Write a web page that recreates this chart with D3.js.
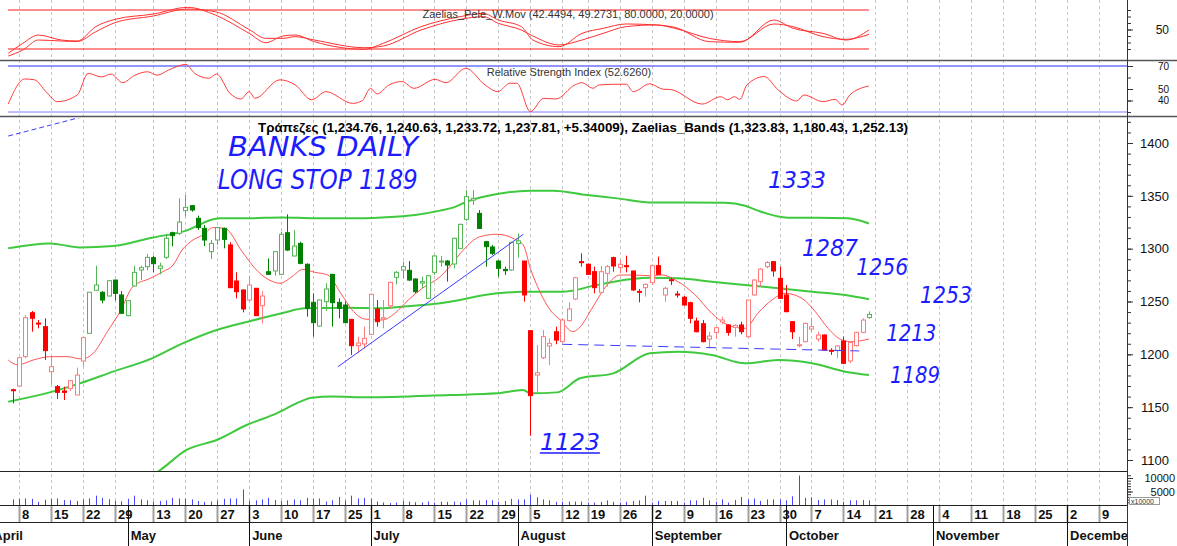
<!DOCTYPE html>
<html>
<head>
<meta charset="utf-8">
<script src="https://cdn.jsdelivr.net/npm/d3@7"></script>
<style>
  body { margin: 0; background: #fff; }
  svg { display: block; font-family: "Liberation Sans", Arial, sans-serif; }
</style>
</head>
<body>
<svg width="1177" height="546"></svg>
<script>
// ---- data (trading-day index 0 = first candle) ----
var opens = [1166.5,1170.0,1197.8,1239.4,1229.6,1226.2,1183.6,1169.4,1165.3,1167.8,1161.5,1193.7,
  1219.9,1260.6,1258.7,1255.2,1270.3,1256.2,1236.6,1264.7,1279.8,1283.0,1291.5,1281.4,1291.8,1315.1,
  1314.5,1336.0,1340.7,1328.7,1319.2,1297.2,1308.2,1319.2,1303.5,1269.4,1260.9,1251.4,1262.5,1246.0,
  1278.2,1278.9,1275.7,1315.1,1293.1,1305.0,1285.2,1249.2,1226.8,1249.8,1275.7,1249.2,1246.7,1233.1,
  1208.2,1209.8,1218.9,1242.9,1233.4,1246.0,1272.9,1279.8,1279.5,1271.3,1267.5,1253.0,1277.6,1287.7,
  1288.3,1285.5,1300.3,1327.8,1346.0,1333.4,1306.6,1301.6,1288.3,1280.4,1279.8,1305.0,1288.3,1222.4,
  1180.4,1196.8,1207.9,1221.4,1212.0,1231.9,1252.4,1287.7,1285.2,1278.2,1258.7,1276.6,1291.5,1282.3,
  1283.9,1278.9,1259.6,1263.1,1267.8,1283.9,1256.2,1270.6,1257.1,1254.0,1248.9,1231.5,1229.0,1214.5,
  1220.8,1230.6,1227.8,1225.5,1227.8,1216.7,1256.2,1268.8,1283.0,1287.7,1271.9,1256.2,1230.9,1208.5,
  1212.0,1224.0,1214.5,1218.3,1203.8,1203.5,1212.6,1193.7,1208.2,1220.8,1234.76];
var highs = [1167.5,1197.0,1237.2,1241.0,1232.5,1234.1,1197.8,1171.0,1169.4,1175.7,1187.4,1216.7,
  1259.0,1283.9,1259.9,1270.0,1270.5,1259.9,1251.0,1283.9,1283.9,1295.0,1293.4,1286.8,1313.6,1316.1,
  1347.6,1350.8,1341.3,1331.2,1322.4,1308.2,1320.8,1319.9,1306.0,1277.6,1261.5,1274.4,1262.8,1259.9,
  1290.8,1297.8,1316.1,1332.5,1317.7,1306.6,1286.1,1257.7,1252.0,1267.2,1276.0,1253.0,1249.8,1233.5,
  1216.7,1226.2,1257.4,1251.4,1251.4,1268.8,1278.9,1287.7,1288.3,1271.9,1273.5,1275.1,1294.0,1293.1,
  1289.3,1310.4,1323.7,1355.5,1355.5,1336.6,1307.3,1303.5,1289.3,1283.0,1306.6,1314.5,1288.5,1222.4,
  1208.8,1223.0,1215.1,1226.2,1234.1,1249.2,1273.5,1295.6,1286.1,1283.0,1283.6,1284.5,1292.4,1289.3,
  1293.4,1279.0,1261.8,1267.2,1284.5,1292.4,1264.0,1272.5,1259.9,1255.2,1249.8,1234.7,1232.5,1221.4,
  1226.2,1235.6,1228.4,1228.4,1230.9,1251.5,1271.0,1281.4,1288.3,1288.3,1283.0,1265.6,1231.5,1216.7,
  1230.0,1234.7,1221.4,1218.9,1205.7,1208.8,1216.7,1212.0,1221.4,1234.1,1240.63];
var lows = [1153.5,1169.0,1196.2,1221.4,1224.6,1194.6,1171.6,1157.7,1156.8,1165.3,1161.5,1188.3,
  1219.5,1260.0,1248.3,1255.0,1251.1,1238.5,1236.0,1264.5,1270.3,1279.5,1277.6,1275.7,1290.2,1302.2,
  1312.9,1330.3,1335.0,1317.7,1302.5,1290.2,1303.5,1300.3,1262.5,1253.0,1239.7,1250.4,1236.3,1229.3,
  1275.1,1274.4,1275.1,1297.8,1292.4,1285.2,1235.6,1216.7,1226.2,1241.0,1226.2,1234.1,1229.3,1199.4,
  1201.0,1205.7,1218.3,1226.2,1224.6,1243.5,1266.2,1271.9,1269.4,1257.7,1262.5,1252.4,1275.1,1283.0,
  1268.8,1281.4,1299.7,1326.2,1341.3,1318.6,1283.0,1294.0,1273.5,1275.1,1278.9,1291.5,1249.8,1123.0,
  1163.1,1195.6,1189.9,1209.5,1211.3,1230.9,1251.4,1283.0,1275.1,1257.7,1257.7,1264.0,1278.2,1276.6,
  1277.6,1260.0,1249.2,1254.6,1265.6,1275.1,1249.8,1265.6,1253.6,1246.0,1229.3,1220.8,1211.3,1205.7,
  1214.5,1228.4,1217.7,1216.7,1219.0,1216.1,1255.5,1264.0,1281.4,1273.5,1252.4,1239.7,1214.5,1206.6,
  1211.3,1221.4,1212.0,1203.5,1199.4,1196.2,1190.8,1191.5,1207.3,1219.9,1233.72];
var closes = [1166.0,1196.8,1234.7,1234.1,1229.2,1203.5,1188.3,1164.0,1164.0,1175.1,1180.4,1215.8,
  1258.7,1265.6,1251.4,1269.7,1257.7,1238.8,1250.8,1277.6,1282.0,1291.8,1285.8,1283.6,1309.8,1312.3,
  1325.2,1339.1,1336.6,1319.9,1308.2,1305.0,1319.9,1308.8,1263.1,1259.3,1242.9,1265.6,1236.6,1255.2,
  1275.7,1297.2,1313.6,1298.7,1302.5,1286.1,1243.5,1230.0,1251.4,1261.8,1248.9,1243.5,1230.0,1208.2,
  1210.7,1215.1,1256.8,1230.9,1234.7,1268.1,1277.6,1283.0,1270.3,1259.3,1268.8,1274.4,1293.1,1288.3,
  1284.5,1309.8,1323.0,1349.2,1347.6,1319.2,1301.9,1295.6,1281.4,1279.2,1306.0,1307.3,1256.2,1160.9,
  1182.6,1216.7,1210.4,1213.5,1232.5,1242.9,1272.5,1286.8,1275.7,1263.1,1278.2,1283.0,1283.6,1285.2,
  1283.3,1260.9,1259.0,1266.2,1283.9,1275.7,1262.5,1270.0,1256.5,1246.7,1234.1,1221.4,1212.0,1217.3,
  1225.2,1232.5,1220.8,1227.4,1221.4,1251.4,1270.3,1280.7,1286.8,1278.9,1253.0,1240.4,1221.4,1209.1,
  1229.3,1226.2,1218.3,1204.1,1203.2,1207.9,1191.5,1211.3,1220.8,1232.47,1237.81];
// candle colour state: g = green regime, r = red regime
var trend = "rrrrrrrrrrrr" + "gggggggggggggggggggggg" + "rrrrrr" + "ggggggggggggg" + "rrrrrrr" +
  "gggggggggggggggggggg" + "rrrrrrrrrrrrrrrrrrrrrrrrrrrrrrrrrrrrrrrrrrrrrrrrrrrrrr" + "g";
var volumes = [2070,2300,2415,2300,1150,1955,2300,2415,1840,1725,1495,2070,2415,3450,2645,2185,
  1500,1400,2300,3450,2070,1725,1265,1495,1725,2645,2415,2415,2070,1495,1150,1265,1725,2300,2415,
  2415,5750,1495,1725,2070,2645,1840,1495,1725,2070,1725,2645,2300,2415,1265,1725,2990,1725,3450,
  2415,2645,2415,1265,920,690,920,1495,1265,1035,920,1265,920,1265,1150,1265,1035,2070,1725,1725,
  1840,1725,1150,1495,2300,2070,2070,3795,2875,2070,1725,1150,1150,1265,1265,1265,920,920,1150,
  1725,1150,920,1150,1495,1725,3450,920,1495,1495,1495,1495,920,1725,1725,2645,1725,1150,2070,920,
  1840,2990,2070,2415,1495,2070,2070,2070,1725,3220,10925,2645,2875,1840,2070,2070,1840,1150,1725,
  1725,1840,1725];

// Zaelias bands and fast average, read as [dayIndex, value]
var upperBand = [[-0.7,1300.3],[5.8,1305],[10.5,1301.2],[15.7,1302.5],[21.8,1310.4],[26.6,1316.1],
  [32.4,1328.7],[36.8,1328.7],[42.1,1329.6],[47.3,1328.7],[52.5,1328.7],[57.8,1329.6],[63,1331.9],
  [66.9,1336],[68.9,1338.8],[71.1,1344.5],[75.8,1351.7],[81,1354.9],[84.6,1354.9],[89.9,1350.8],
  [94.6,1347.6],[99.7,1343.8],[111.5,1343.5],[114.6,1340.6],[116.6,1336],[121.3,1329.3],[126,1329.3],
  [130.7,1328.7],[134,1323.83]];
var middleBand = [[-0.7,1155.2],[5.8,1164],[10.5,1172.5],[15.7,1183.6],[21.8,1196.2],[26.6,1210.4],
  [32.4,1224],[36.8,1230.9],[42.1,1238.8],[45.7,1243.5],[52.5,1244.2],[57.8,1243.5],[60.9,1245.1],
  [66.9,1248.3],[75.8,1257.7],[79.9,1259.3],[86.1,1259.3],[91.4,1265.6],[96.6,1271],[99.7,1272.5],
  [104.1,1271.9],[109.4,1268.8],[114.6,1265.6],[119.8,1262.5],[125.1,1259.3],[130.3,1256.2],[134,1252.13]];
var lowerBand = [[21.5,1084],[23.1,1090.5],[27.2,1109.5],[31.9,1118.9],[36.6,1133.1],[41.3,1144.2],
  [45,1155.2],[46.8,1159],[50.1,1160],[55.4,1159.3],[68.4,1161.5],[75.8,1163.1],[79.9,1166.3],
  [81,1163.1],[85.2,1164],[88.8,1177.3],[94,1182],[99.7,1201],[104.1,1202.5],[109.4,1199.4],
  [114.6,1191.5],[119.8,1194.6],[125.1,1191.5],[130.3,1183.6],[134,1180.43]];
var fastAvg = [[-0.7,1194.6],[0.8,1190],[3.2,1194.6],[5.8,1197.8],[8.5,1197.8],[10.8,1195.6],
  [12.6,1201],[14.8,1221.4],[16.8,1240.4],[18.8,1264],[21.5,1271.9],[23.5,1278.2],[25.1,1284.5],
  [26.5,1298.7],[28.2,1308.2],[29.8,1313],[31.3,1319.9],[33.2,1319.2],[35.9,1297.2],[38.4,1278.2],
  [40.7,1268.8],[41.8,1267.2],[43.7,1273.5],[45.4,1280.4],[47.3,1277.6],[49.3,1275.1],[51.5,1256.2],
  [53.6,1238.8],[55.1,1233.4],[57.8,1232.5],[59.8,1238.8],[61.9,1251.4],[64.1,1262.5],[66.9,1273.5],
  [68.4,1283],[70.5,1298.7],[73.1,1311.3],[75.8,1313.6],[78.3,1309.8],[79.9,1303.5],[81,1281.4],
  [82.5,1259.3],[84.1,1242],[85.7,1232.5],[87.7,1221.4],[88.8,1226],[90.8,1245],[93,1265.6],
  [95,1275],[97.1,1275.1],[99.7,1274.4],[101.6,1275.1],[104.1,1268.8],[106.8,1256.2],[109.4,1238.8],
  [111.9,1227.8],[114.6,1224.6],[116.6,1238.8],[118.8,1251.4],[120.9,1257.7],[123.5,1253],
  [125.6,1240.4],[127.6,1224.6],[129.8,1213.5],[131.3,1212],[134,1214.5]];

// Zaelias_Pele_W.Mov lines (fast / slow)
var peleFast = [[-0.7,13.4],[1.6,28.8],[4,41.5],[7.6,33.8],[10.1,32.3],[13,54.4],[16,65.6],[22,73.8],
  [27.4,84.1],[31.7,72.3],[37,44.1],[39.6,29.7],[42.3,40],[44.2,41.5],[47.2,31.3],[55,19.5],[58,28.8],
  [63.9,54.4],[70,69.7],[73.6,74.9],[76,64.6],[79.6,54.4],[81.4,33.8],[85.5,23.6],[89.1,44.1],
  [92.4,51.8],[96,58.5],[100.7,57],[103.6,53.4],[109,31.3],[113.8,30.3],[119.1,64.6],[122.1,51.8],
  [126.8,44.1],[130.4,33.8],[134,49.27]];
var peleSlow = [[-0.7,9.2],[1.6,18.5],[4,33.8],[7.6,32.3],[10.1,31.5],[13,46.6],[16,60.5],[22,70.8],
  [27.4,81.5],[31.7,77.4],[37,50],[39.6,36.4],[42.3,36.4],[44.2,39],[47.2,33.8],[55,22],[58,24.6],
  [63.9,49.2],[70,65.6],[73.6,69.7],[76,59.5],[79.6,49.2],[81.4,40],[85.5,26.2],[89.1,33.8],
  [92.4,44.1],[96,54.4],[100.7,57],[103.6,51.8],[109,36.4],[113.8,31.3],[119.1,58.5],[122.1,54.4],
  [126.8,39],[130.4,34.9],[134,42.45]];
var rsi = [[-0.7,37],[1.9,58.7],[3.4,58],[5.2,47.7],[7,39],[10.1,44.8],[11.8,63.6],[13.9,60.5],
  [15.4,63],[17.2,55.5],[19,61.6],[21.1,65],[22.6,62],[24.4,66.5],[27.1,71.4],[28.5,63.5],[30.7,59.4],
  [31.9,63],[34,46.2],[35.7,41.3],[37,47.7],[37.9,41.9],[41.8,58],[44.2,53.6],[46.8,40.6],[49,47.7],
  [53.2,37.5],[54.7,39.9],[56,50.6],[57,45.7],[58.9,53.6],[60.9,56.5],[62.8,50.6],[66.1,58.4],
  [67.8,55.5],[70.9,68],[73.9,53.6],[75.9,47.7],[77.8,55],[78.9,55],[81,30.3],[83.1,41.9],[85,41.3],
  [88,53.6],[89.1,55.5],[90.8,50.6],[91.8,53.6],[96,54.2],[97.1,47.7],[99.7,54.5],[101.9,49.7],
  [102.7,49.7],[107.9,36.9],[110.8,43.3],[111.9,40.6],[112.9,43.3],[113.8,41],[114.9,53.6],
  [117.6,60.8],[119.8,49.1],[122.7,39.6],[123.8,44.8],[126.8,39],[128.7,41],[129.8,36.1],[131,44.8],
  [134,52.63]];

// blue drawings on the price panel
var trendLine = [[50.9,1188.3],[79.9,1313.6]];
var supportLine = [[86,1209.5],[132.5,1203.2]];
var oldLine = [[-0.7,1406.6],[10.8,1424.6]];

// x axis: first trading day of each week, and month starts
var weekTicks = [[1,"8"],[6,"15"],[11,"22"],[16,"29"],[22,"13"],[27,"20"],[32,"27"],[37,"3"],
  [42,"10"],[47,"17"],[52,"25"],[56,"1"],[61,"8"],[66,"15"],[71,"22"],[76,"29"],[81,"5"],[86,"12"],
  [90,"19"],[95,"26"],[100,"2"],[105,"9"],[110,"16"],[115,"23"],[120,"30"],[125,"7"],[130,"14"],
  [135,"21"],[140,"28"],[145,"4"],[150,"11"],[155,"18"],[160,"25"],[165,"2"],[170,"9"]];
var monthTicks = [[18,"May"],[37,"June"],[56,"July"],[79,"August"],[100,"September"],
  [121,"October"],[144,"November"],[165,"December"]];
var priceLabels = [1100,1150,1200,1250,1300,1350,1400];
var volLabels = [5000,10000];

var headerText = "Τράπεζες (1,234.76, 1,240.63, 1,233.72, 1,237.81, +5.34009), Zaelias_Bands (1,323.83, 1,180.43, 1,252.13)";
var peleText = "Zaelias_Pele_W.Mov (42.4494, 49.2731, 80.0000, 20.0000)";
var rsiText = "Relative Strength Index (52.6260)";

// ---- drawing ----
var svg = d3.select("svg"),
    width = +svg.attr("width"),
    height = +svg.attr("height");
var left = 8, right = 1127;

var x = d3.scaleLinear().domain([0, 134]).range([12.7, 869]);
var y = d3.scaleLinear().domain([1100, 1400]).range([460, 143]);
var yPele = d3.scaleLinear().domain([20, 80]).range([49, 10]);
var yRsi = d3.scaleLinear().domain([30, 70]).range([112, 66]);
var yVol = d3.scaleLinear().domain([0, 10000]).range([505, 478]);

var defs = svg.append("defs");
[["cTop", 0, 60], ["cRsi", 61, 116], ["cMain", 118, 471], ["cVol", 471, 505]].forEach(function (p) {
    defs.append("clipPath").attr("id", p[0]).append("rect")
        .attr("x", left).attr("y", p[1]).attr("width", right - left).attr("height", p[2] - p[1]);
});
defs.append("clipPath").attr("id", "cAxis").append("rect")
    .attr("x", 0).attr("y", 505).attr("width", right).attr("height", 41);

// vertical week grid through every panel
svg.append("g").selectAll("line")
    .data(weekTicks)
    .enter().append("line")
    .attr("x1", function (d) { return Math.round(x(d[0])) + 0.5; })
    .attr("x2", function (d) { return Math.round(x(d[0])) + 0.5; })
    .attr("y1", 0).attr("y2", 505)
    .attr("stroke", "#c4c4c4")
    .attr("stroke-dasharray", "3,3");

function curve(ys) {
    return d3.line()
        .x(function (d) { return x(d[0]); })
        .y(function (d) { return ys(d[1]); })
        .curve(d3.curveMonotoneX);
}

// --- top panel ---
var gTop = svg.append("g").attr("clip-path", "url(#cTop)");
[80, 20].forEach(function (v) {
    gTop.append("line")
        .attr("x1", left).attr("x2", x(134))
        .attr("y1", yPele(v)).attr("y2", yPele(v))
        .attr("stroke", "#ff1a1a");
});
[peleFast, peleSlow].forEach(function (s) {
    gTop.append("path").datum(s)
        .attr("fill", "none").attr("stroke", "#ff3030").attr("stroke-width", 1)
        .attr("d", curve(yPele));
});
svg.append("text").attr("x", 568).attr("y", 18)
    .attr("text-anchor", "middle").attr("font-size", 11).attr("fill", "#333")
    .text(peleText);

// --- RSI panel ---
var gRsi = svg.append("g").attr("clip-path", "url(#cRsi)");
gRsi.append("line").attr("x1", left).attr("x2", right)
    .attr("y1", yRsi(70)).attr("y2", yRsi(70)).attr("stroke", "#2a2aff");
gRsi.append("line").attr("x1", left).attr("x2", right)
    .attr("y1", yRsi(30)).attr("y2", yRsi(30)).attr("stroke", "#7f7fff");
gRsi.append("path").datum(rsi)
    .attr("fill", "none").attr("stroke", "#ff3b3b").attr("stroke-width", 1)
    .attr("d", curve(yRsi));
svg.append("text").attr("x", 569).attr("y", 76)
    .attr("text-anchor", "middle").attr("font-size", 11).attr("fill", "#333")
    .text(rsiText);

// --- main price panel ---
var gMain = svg.append("g").attr("clip-path", "url(#cMain)");
[upperBand, middleBand, lowerBand].forEach(function (s) {
    gMain.append("path").datum(s)
        .attr("fill", "none").attr("stroke", "#3ec93e").attr("stroke-width", 2)
        .attr("d", curve(y));
});
gMain.append("path").datum(fastAvg)
    .attr("fill", "none").attr("stroke", "#ff5454").attr("stroke-width", 1)
    .attr("d", curve(y));

var candles = opens.map(function (o, i) {
    return { i: i, o: o, h: highs[i], l: lows[i], c: closes[i], up: closes[i] > o, t: trend[i] };
});
function candleColor(d) {
    if (d.t === "g") return d.up ? "#55b455" : "#008000";
    return d.up ? "#ff7a7a" : "#ff0000";
}
var cg = gMain.selectAll(".candle")
    .data(candles)
    .enter().append("g")
    .attr("class", "candle");
cg.append("line")
    .attr("x1", function (d) { return Math.round(x(d.i)) + 0.5; })
    .attr("x2", function (d) { return Math.round(x(d.i)) + 0.5; })
    .attr("y1", function (d) { return y(d.h); })
    .attr("y2", function (d) { return y(d.l); })
    .attr("stroke", candleColor);
cg.append("rect")
    .attr("x", function (d) { return Math.round(x(d.i)) - 1.5; })
    .attr("width", 4)
    .attr("y", function (d) { return y(Math.max(d.o, d.c)); })
    .attr("height", function (d) { return Math.max(1, y(Math.min(d.o, d.c)) - y(Math.max(d.o, d.c))); })
    .attr("fill", function (d) { return d.up ? "#fff" : candleColor(d); })
    .attr("stroke", candleColor);

gMain.append("path").datum(trendLine)
    .attr("fill", "none").attr("stroke", "#3b3bff")
    .attr("d", d3.line().x(function (d) { return x(d[0]); }).y(function (d) { return y(d[1]); }));
gMain.append("path").datum(supportLine)
    .attr("fill", "none").attr("stroke", "#3b3bff").attr("stroke-dasharray", "10,6")
    .attr("d", d3.line().x(function (d) { return x(d[0]); }).y(function (d) { return y(d[1]); }));
gMain.append("path").datum(oldLine)
    .attr("fill", "none").attr("stroke", "#3b3bff").attr("stroke-dasharray", "5,3")
    .attr("d", d3.line().x(function (d) { return x(d[0]); }).y(function (d) { return y(d[1]); }));

svg.append("text").attr("x", 258).attr("y", 132)
    .attr("font-size", 13).attr("font-weight", "bold")
    .attr("textLength", 650).attr("lengthAdjust", "spacingAndGlyphs")
    .text(headerText);

// hand-written notes: [text, dayIndex, price, size, width, underline]
var notes = [
    ["BANKS DAILY", 33.7, 1387.7, 26, 190],
    ["LONG STOP 1189", 32.1, 1356.5, 26, 200],
    ["1333", 118.2, 1357.4, 23, 58],
    ["1287", 123.5, 1293, 23, 56],
    ["1256", 132, 1275, 23, 52],
    ["1253", 142, 1248.6, 23, 52],
    ["1213", 136.7, 1212.6, 23, 50],
    ["1189", 137.3, 1172.9, 23, 50],
    ["1123", 82.5, 1109.5, 23, 60, true]
];
var ng = svg.append("g")
    .attr("font-family", "'DejaVu Sans', sans-serif")
    .attr("font-style", "italic")
    .attr("font-weight", 200)
    .attr("fill", "#1c1cff");
notes.forEach(function (n) {
    ng.append("text")
        .attr("x", x(n[1])).attr("y", y(n[2]))
        .attr("font-size", n[3])
        .attr("textLength", n[4]).attr("lengthAdjust", "spacingAndGlyphs")
        .text(n[0]);
    if (n[5]) {
        ng.append("line")
            .attr("x1", x(n[1])).attr("x2", x(n[1]) + n[4])
            .attr("y1", y(n[2]) + 3).attr("y2", y(n[2]) + 3)
            .attr("stroke", "#1c1cff").attr("stroke-width", 1.5);
    }
});

// --- volume panel ---
var gVol = svg.append("g").attr("clip-path", "url(#cVol)");
gVol.selectAll("line")
    .data(volumes)
    .enter().append("line")
    .attr("x1", function (d, i) { return Math.round(x(i)) + 0.5; })
    .attr("x2", function (d, i) { return Math.round(x(i)) + 0.5; })
    .attr("y1", yVol(0))
    .attr("y2", function (d) { return yVol(d); })
    .attr("stroke", "#4646ff");

// --- panel borders ---
[[60.5, 1177, "#555", 1.5], [116.5, 1177, "#555", 1.5], [471.5, right, "#222", 1], [505.5, right, "#222", 1], [522.5, right, "#222", 1]]
    .forEach(function (b) {
        svg.append("line").attr("x1", 0).attr("x2", b[1])
            .attr("y1", b[0]).attr("y2", b[0])
            .attr("stroke", b[2]).attr("stroke-width", b[3]);
    });

// --- right axes ---
svg.append("line").attr("x1", right + 0.5).attr("x2", right + 0.5)
    .attr("y1", 0).attr("y2", 546).attr("stroke", "#333");

function rightAxis(scale, minor, labels, size) {
    var g = svg.append("g").attr("transform", "translate(" + right + ",0)");
    g.call(d3.axisRight(scale).tickValues(minor).tickSize(4).tickFormat(""));
    var gl = svg.append("g").attr("transform", "translate(" + right + ",0)");
    gl.call(d3.axisRight(scale).tickValues(labels).tickSize(6).tickFormat(d3.format("d")));
    [g, gl].forEach(function (a) {
        a.select(".domain").remove();
        a.selectAll("line").attr("stroke", "#333");
    });
    gl.selectAll("text")
        .attr("x", 42).attr("text-anchor", "end")
        .attr("font-size", size).attr("font-family", "'Liberation Sans', Arial, sans-serif")
        .attr("fill", "#111");
    return gl;
}
rightAxis(yPele, d3.range(20, 81, 10), [50], 12);
rightAxis(yRsi, d3.range(30, 71, 10), [40, 50, 70], 10);
rightAxis(y, d3.range(1100, 1421, 10), priceLabels, 13);
var va = rightAxis(yVol, d3.range(1000, 11001, 1000), volLabels, 11);
va.selectAll("text").attr("x", 48);
svg.append("rect").attr("x", 1129.5).attr("y", 497.5).attr("width", 30).attr("height", 7)
    .attr("fill", "#fff").attr("stroke", "#999");
svg.append("text").attr("x", 1131).attr("y", 503.5).attr("font-size", 7).attr("fill", "#333")
    .text("x10000");

// --- date axis ---
var gAx = svg.append("g").attr("clip-path", "url(#cAxis)");
gAx.selectAll(".wk")
    .data(weekTicks)
    .enter().append("line")
    .attr("x1", function (d) { return Math.round(x(d[0])) + 0.5; })
    .attr("x2", function (d) { return Math.round(x(d[0])) + 0.5; })
    .attr("y1", 506).attr("y2", 522)
    .attr("stroke", "#a0a0a0").attr("stroke-width", 2);
gAx.selectAll(".wkt")
    .data(weekTicks)
    .enter().append("text")
    .attr("x", function (d) { return x(d[0]) + 3; })
    .attr("y", 519)
    .attr("font-size", 13).attr("font-weight", "bold").attr("fill", "#111")
    .text(function (d) { return d[1]; });
gAx.selectAll(".mo")
    .data(monthTicks)
    .enter().append("line")
    .attr("x1", function (d) { return Math.round(x(d[0])) + 0.5; })
    .attr("x2", function (d) { return Math.round(x(d[0])) + 0.5; })
    .attr("y1", 505).attr("y2", 546)
    .attr("stroke", "#111");
gAx.selectAll(".mot")
    .data([[-3.5, "April"]].concat(monthTicks))
    .enter().append("text")
    .attr("x", function (d) { return x(d[0]) + 3; })
    .attr("y", 540)
    .attr("font-size", 13).attr("font-weight", "bold").attr("fill", "#111")
    .text(function (d) { return d[1]; });
</script>
</body>
</html>
